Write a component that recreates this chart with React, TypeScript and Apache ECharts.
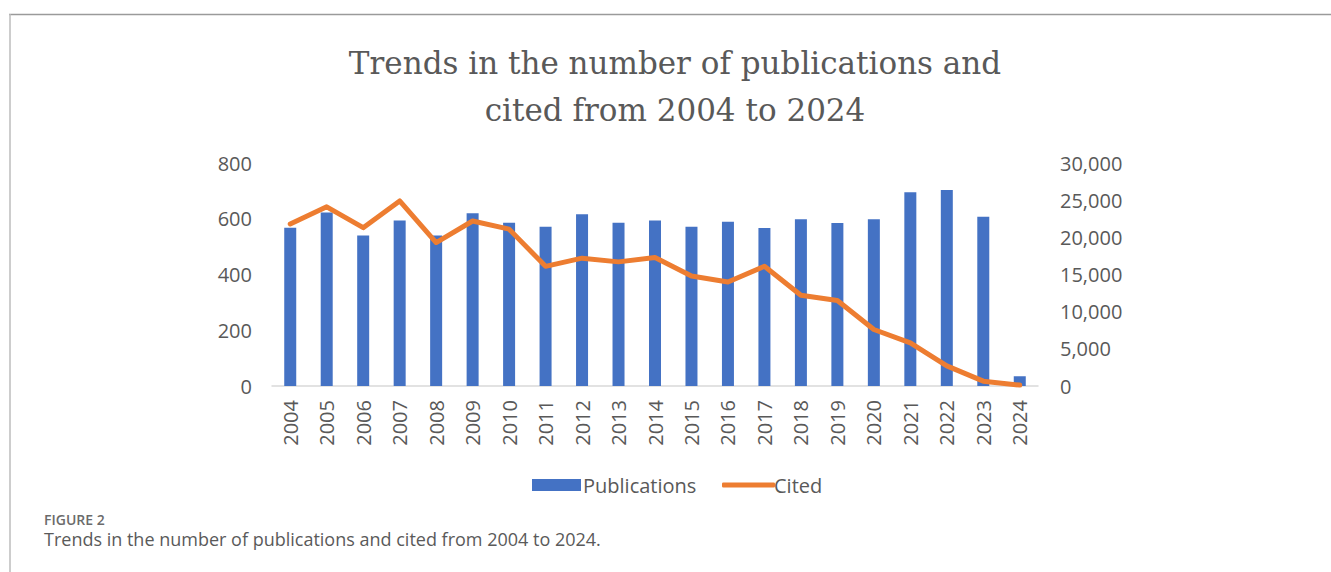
import React, { useEffect, useRef } from "react";
import * as echarts from "echarts";

const years = ["2004","2005","2006","2007","2008","2009","2010","2011","2012","2013","2014","2015","2016","2017","2018","2019","2020","2021","2022","2023","2024"];
const publications = [568, 622, 540, 594, 540, 620, 586, 571, 616, 586, 594, 571, 589, 567, 598, 585, 598, 695, 703, 607, 35];
const cited = [21800, 24100, 21300, 24900, 19300, 22200, 21100, 16100, 17200, 16700, 17300, 14800, 14000, 16100, 12200, 11500, 7600, 5800, 2700, 650, 120];
const leftTicks = { min: 0, max: 800, interval: 200 };
const rightTicks = { min: 0, max: 30000, interval: 5000 };

export default function App() {
  const ref = useRef<HTMLDivElement>(null);
  useEffect(() => {
    const chart = echarts.init(ref.current!, null, { renderer: "svg" });
    const labelColor = "#595959";
    const legendText = { fontFamily: "Open Sans", fontSize: 20, color: labelColor };
    chart.setOption({
      animation: false,
      backgroundColor: "#ffffff",
      title: {
        text: "Trends in the number of publications and\ncited from 2004 to 2024",
        left: 670,
        textAlign: "center",
        top: 34,
        textStyle: {
          fontFamily: "DejaVu Serif",
          fontWeight: "normal",
          fontSize: 31,
          color: "#595959",
          lineHeight: 47,
        },
      },
      grid: { left: 272, right: 293, top: 163, bottom: 186 },
      legend: [
        {
          left: 527,
          top: 470,
          itemWidth: 49,
          itemHeight: 12,
          itemGap: 0,
          textStyle: { ...legendText, padding: [0, 0, 0, -3] },
          data: [{ name: "Publications", icon: "rect" }],
        },
        {
          left: 717,
          top: 470,
          itemWidth: 53,
          itemHeight: 5,
          itemGap: 0,
          textStyle: { ...legendText, padding: [0, 0, 0, -6] },
          data: [{ name: "Cited", icon: "roundRect" }],
        },
      ],
      xAxis: {
        type: "category",
        data: years,
        axisLine: { lineStyle: { color: "#d9d9d9", width: 1.5 } },
        axisTick: { show: false },
        axisLabel: { rotate: 90, margin: 14, fontFamily: "Open Sans", fontSize: 20, color: labelColor, interval: 0 },
      },
      yAxis: [
        {
          type: "value",
          ...leftTicks,
          splitLine: { show: false },
          axisLine: { show: false },
          axisTick: { show: false },
          axisLabel: { margin: 20, fontFamily: "Open Sans", fontSize: 20, color: labelColor },
        },
        {
          type: "value",
          ...rightTicks,
          splitLine: { show: false },
          axisLine: { show: false },
          axisTick: { show: false },
          axisLabel: {
            margin: 22,
            fontFamily: "Open Sans",
            fontSize: 20,
            color: labelColor,
            formatter: (v: number) => v.toLocaleString("en-US"),
          },
        },
      ],
      series: [
        {
          name: "Publications",
          type: "bar",
          data: publications,
          barWidth: 12,
          itemStyle: { color: "#4472C4" },
        },
        {
          name: "Cited",
          type: "line",
          yAxisIndex: 1,
          data: cited,
          symbol: "none",
          lineStyle: { color: "#ED7D31", width: 5, cap: "round", join: "round" },
          itemStyle: { color: "#ED7D31" },
        },
      ],
      graphic: [
        { type: "line", shape: { x1: 9, y1: 14.5, x2: 1331, y2: 14.5 }, style: { stroke: "#9a9a9a", lineWidth: 1.5 } },
        { type: "line", shape: { x1: 10, y1: 14, x2: 10, y2: 572 }, style: { stroke: "#bdbdbd", lineWidth: 1.5 } },
        {
          type: "text",
          x: 44,
          y: 519,
          style: { text: "FIGURE 2", fontFamily: "Open Sans", fontWeight: 600, fontSize: 14, fill: "#6b6b6b", verticalAlign: "middle" },
        },
        {
          type: "text",
          x: 44,
          y: 539,
          style: {
            text: "Trends in the number of publications and cited from 2004 to 2024.",
            fontFamily: "Open Sans",
            fontSize: 18,
            fill: "#5a5a5a",
            verticalAlign: "middle",
          },
        },
      ],
    });
    return () => chart.dispose();
  }, []);
  return (
    <div
      ref={ref}
      style={{ position: "fixed", left: 0, top: 0, width: 1331, height: 572 }}
    />
  );
}
